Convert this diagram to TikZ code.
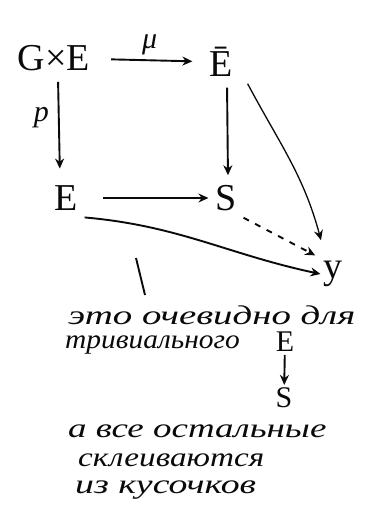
\documentclass[tikz,border=0pt]{standalone}
\usepackage{fontspec}
\setmainfont{Liberation Serif}
\usetikzlibrary{arrows.meta, positioning, calc}
\definecolor{inkblack}{RGB}{10, 10, 10}

\begin{document}
\begin{tikzpicture}[
    x=1pt, y=-1pt,
    obj/.style={inner sep=1pt, outer sep=6pt, text=inkblack, font=\fontsize{38}{42}\selectfont},
    letterobj/.style={inner sep=0pt, outer sep=3pt, text=inkblack, font=\fontsize{30}{34}\selectfont},
    note/.style={anchor=west, inner sep=0pt, text=inkblack, font=\fontsize{27}{30}\selectfont\itshape},
    small/.style={inner sep=1pt, text=inkblack, font=\fontsize{30}{34}\selectfont\itshape},
    line/.style={draw=inkblack, line width=1.9pt, -{Stealth[length=10pt, width=9pt]}},
    thin/.style={draw=inkblack, line width=1.3pt, -{Stealth[length=10pt, width=9pt]}}
]
\useasboundingbox (0,0) rectangle (366,518);

% square
\node[obj] (gxe) at (54,58) {G×E};
\node[obj] (ebar) at (221,62) {Ē};
\node[obj] (ee) at (66,198) {E};
\node[obj] (ss) at (226,198) {S};
\node[obj, outer sep=2pt] (yy) at (333,274) {y};

\draw[line, shorten <=14pt, shorten >=10pt] (gxe) -- node[small, above=3pt] {μ} (ebar);
\draw[line, shorten <=4pt, shorten >=10pt] ([xshift=4pt]gxe.south) -- node[small, left=8pt, pos=0.4] {p} ([xshift=-6pt]ee.north);
\draw[line, shorten <=4pt, shorten >=3pt] ([xshift=6pt]ebar.south) -- ([xshift=2pt]ss.north);
\draw[line, shorten <=18pt] (ee) -- (ss);
\draw[line, dash pattern=on 6pt off 7pt, shorten >=6pt] (ss.south east) -- (yy.north west);
\draw[line] (ee.south east) to[out=-5, in=168] (yy.west);
\draw[thin] ([xshift=8pt]ebar.south east) to[out=-62, in=105] ([shift={(-12,-18)}]yy.north);

% remark
\coordinate (tick) at (136,258);
\coordinate (tickend) at (145,295);
\draw[draw=inkblack, line width=1.9pt] (tick) -- (tickend);

\node[note] (txta) at (68,315) {\scalebox{1.44}[1]{это очевидно для}};
\node[note] (txtb) at (65,345) {\scalebox{1.09}[1]{тривиального}};
\node[letterobj] (te) at (285,342) {E};
\node[letterobj] (ts) at (284,398) {S};
\draw[line] (te) -- (ts);
\node[note] (txtc) at (68,431) {\scalebox{1.37}[1]{а все остальные}};
\node[note] (txtd) at (78,460) {\scalebox{1.23}[1]{склеиваются}};
\node[note] (txte) at (75,490) {\scalebox{1.4}[1]{из кусочков}};

\end{tikzpicture}
\end{document}
